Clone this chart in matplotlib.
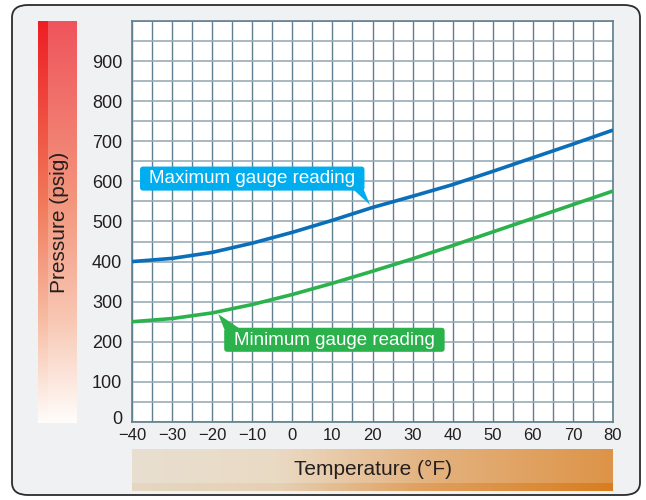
import matplotlib.pyplot as plt
import matplotlib.patches as mpatches
import matplotlib.transforms as mtransforms
import numpy as np

plt.rcParams['font.family'] = ['Liberation Sans', 'DejaVu Sans']

# Data
temps = [-40, -30, -20, -10, 0, 10, 20, 30, 40, 50, 60, 70, 80]
max_reading = [400, 408, 423, 446, 473, 503, 535, 563, 592, 625, 659, 693, 728]
min_reading = [250, 258, 272, 293, 318, 346, 376, 407, 440, 474, 508, 542, 576]
y_ticks = [0, 100, 200, 300, 400, 500, 600, 700, 800, 900]
x_ticks = [-40, -30, -20, -10, 0, 10, 20, 30, 40, 50, 60, 70, 80]
x_ticklabels = ['\u221240', '\u221230', '\u221220', '\u221210', '0', '10', '20',
                '30', '40', '50', '60', '70', '80']

W, H = 646, 500
fig = plt.figure(figsize=(W / 100, H / 100), dpi=100)
fig.patch.set_facecolor('white')


def px(x0, y0, x1, y1):
    # pixel box (top-left origin) -> figure fraction rect
    return [x0 / W, 1 - y1 / H, (x1 - x0) / W, (y1 - y0) / H]


def ramp(stops, n=256):
    # stops: list of (position, rgb 0-255)
    s = np.linspace(0, 1, n)
    pos = [p for p, _ in stops]
    cols = np.array([c for _, c in stops], dtype=float) / 255
    return np.stack([np.interp(s, pos, cols[:, k]) for k in range(3)], axis=1)


# Rounded panel
panel = mpatches.FancyBboxPatch((12 / W, 5 / H), 628 / W, 490 / H,
                                boxstyle="round,pad=0,rounding_size=0.025",
                                transform=fig.transFigure, facecolor='#f0f1f3',
                                edgecolor='#2b2b2b', linewidth=1.3, zorder=-5)
fig.patches.append(panel)

# Red gradient bar (pressure), top -> bottom
ax_r = fig.add_axes(px(38, 21, 77, 423))
g_main = ramp([(0, (239, 84, 92)), (0.45, (243, 150, 125)), (0.75, (248, 200, 180)), (1, (255, 253, 251))])
g_strip = ramp([(0, (237, 30, 36)), (0.45, (241, 120, 90)), (0.75, (247, 190, 165)), (1, (255, 252, 250))])
img = np.zeros((256, 39, 3))
img[:, :10] = g_strip[:, None, :]
img[:, 10:] = g_main[:, None, :]
ax_r.imshow(img, aspect='auto', extent=[0, 1, 0, 1], interpolation='bilinear')
ax_r.set_axis_off()
ax_r.text(0.55, 0.5, 'Pressure (psig)', rotation=90, ha='center', va='center',
          fontsize=15, color='#231f20', transform=ax_r.transAxes)

# Orange gradient bar (temperature), left -> right
ax_o = fig.add_axes(px(132, 449, 613, 491))
row = ramp([(0, (232, 223, 208)), (0.3, (234, 218, 196)), (0.6, (228, 180, 130)), (1, (221, 148, 72))])
row_dark = ramp([(0, (228, 215, 194)), (0.3, (230, 208, 180)), (0.6, (224, 160, 95)), (1, (216, 126, 32))])
oimg = np.zeros((42, 256, 3))
oimg[:34] = row[None, :, :]
oimg[34:] = row_dark[None, :, :]
ax_o.imshow(oimg, aspect='auto', extent=[0, 1, 0, 1], interpolation='bilinear')
ax_o.set_axis_off()
ax_o.text(0.5, 0.52, 'Temperature (\u00b0F)', ha='center', va='center',
          fontsize=15, color='#231f20', transform=ax_o.transAxes)

# Main chart
ax = fig.add_axes(px(132, 21, 613, 422))
ax.set_facecolor('white')
ax.set_xlim(-40, 80)
ax.set_ylim(0, 1000)
for xv in np.arange(-40, 81, 5):
    ax.axvline(xv, color='#5f7e8f', lw=1.0, zorder=1)
for yv in np.arange(0, 1001, 50):
    ax.axhline(yv, color='#9aadb8', lw=1.2, zorder=1)
for sp in ax.spines.values():
    sp.set_color('#5f7e8f')
    sp.set_linewidth(1.2)

ax.set_yticks(y_ticks)
ax.set_yticklabels([str(v) for v in y_ticks], fontsize=13, color='#231f20')
ax.set_xticks(x_ticks)
ax.set_xticklabels(x_ticklabels, fontsize=12, color='#231f20')
ax.tick_params(axis='y', length=0, pad=7)
ax.tick_params(axis='x', length=0, pad=4)

# nudge the "0" pressure label up a little, as in the original
zero_lbl = ax.get_yticklabels()[0]
zero_lbl.set_transform(zero_lbl.get_transform() +
                       mtransforms.ScaledTranslation(0, 3 / 72, fig.dpi_scale_trans))

blue = '#0a6fb8'
green = '#2bb24c'
ax.plot(temps, max_reading, color=blue, lw=2.6, zorder=3, solid_capstyle='butt')
ax.plot(temps, min_reading, color=green, lw=2.6, zorder=3, solid_capstyle='butt')

# Callout labels
max_tx = 19.4
max_ty = float(np.interp(max_tx, temps, max_reading))
box = mpatches.FancyBboxPatch((-38, 577), 56, 60,
                              boxstyle="round,pad=0,rounding_size=0.8",
                              mutation_aspect=10,
                              facecolor='#00aeef', edgecolor='none', zorder=4)
ax.add_patch(box)
ax.add_patch(mpatches.Polygon([(15.2, 580), (17.8, 580), (max_tx, max_ty + 8)],
                              closed=True, facecolor='#00aeef', edgecolor='none', zorder=4))
ax.text(-10, 606, 'Maximum gauge reading', ha='center', va='center',
        fontsize=13.5, color='white', zorder=5)

min_tx = -18.5
min_ty = float(np.interp(min_tx, temps, min_reading))
box2 = mpatches.FancyBboxPatch((-17, 175), 55, 60,
                               boxstyle="round,pad=0,rounding_size=0.8",
                               mutation_aspect=10,
                               facecolor=green, edgecolor='none', zorder=4)
ax.add_patch(box2)
ax.add_patch(mpatches.Polygon([(-17, 232), (-13, 232), (min_tx, min_ty - 6)],
                              closed=True, facecolor=green, edgecolor='none', zorder=4))
ax.text(10.5, 204, 'Minimum gauge reading', ha='center', va='center',
        fontsize=13.5, color='white', zorder=5)

fig.savefig('out.png', dpi=100)
